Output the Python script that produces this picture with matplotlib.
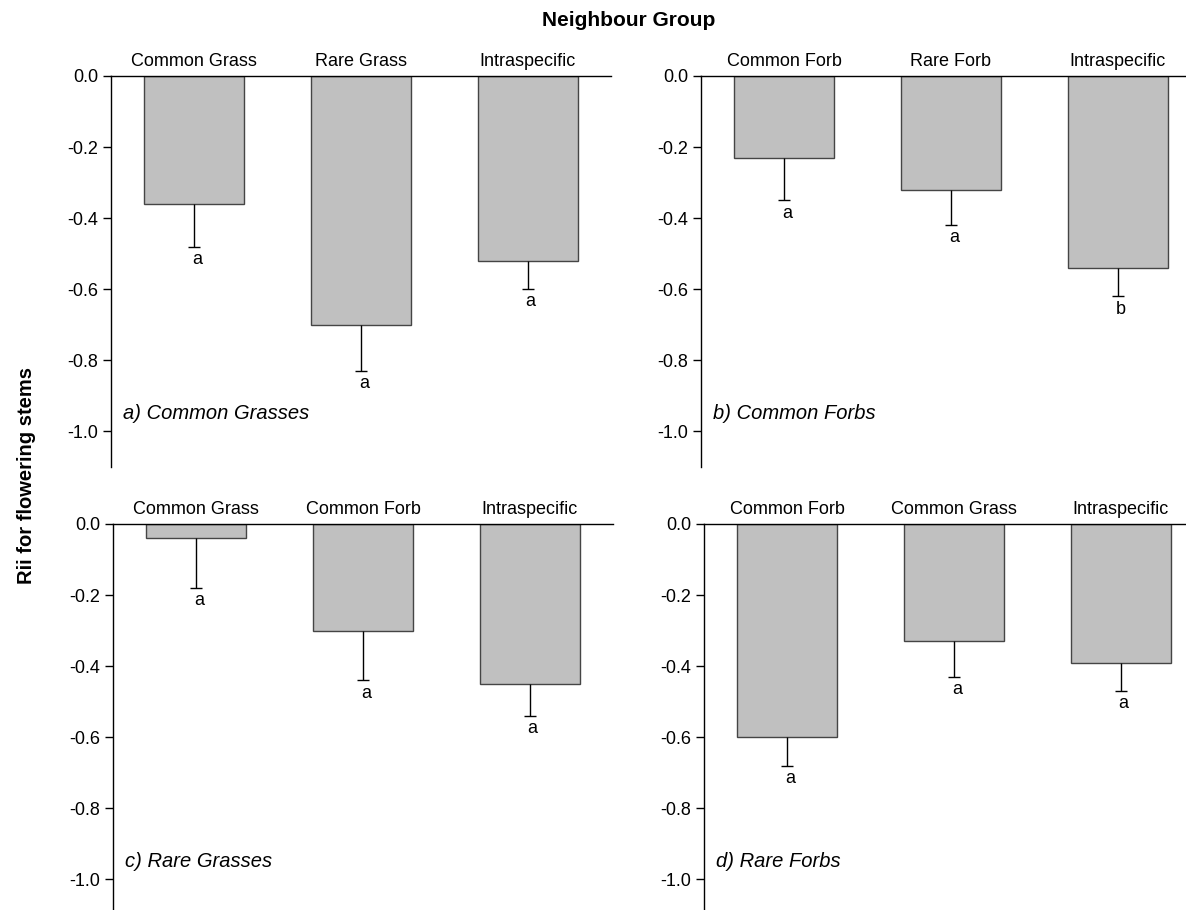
import matplotlib
matplotlib.use("Agg")
import matplotlib.pyplot as plt

output_file = "out.png"

# neighbour groups, mean Rii, lower error and significance letters per target group
labels_a = ["Common Grass", "Rare Grass", "Intraspecific"]
means_a = [-0.36, -0.70, -0.52]
errs_a = [0.12, 0.13, 0.08]
letters_a = ["a", "a", "a"]

labels_b = ["Common Forb", "Rare Forb", "Intraspecific"]
means_b = [-0.23, -0.32, -0.54]
errs_b = [0.12, 0.10, 0.08]
letters_b = ["a", "a", "b"]

labels_c = ["Common Grass", "Common Forb", "Intraspecific"]
means_c = [-0.04, -0.30, -0.45]
errs_c = [0.14, 0.14, 0.09]
letters_c = ["a", "a", "a"]

labels_d = ["Common Forb", "Common Grass", "Intraspecific"]
means_d = [-0.60, -0.33, -0.39]
errs_d = [0.08, 0.10, 0.08]
letters_d = ["a", "a", "a"]

titles = ["a) Common Grasses", "b) Common Forbs", "c) Rare Grasses", "d) Rare Forbs"]

plt.rcParams['font.family'] = ['Liberation Sans', 'DejaVu Sans']

W, H = 1186, 910
# axes boxes in pixels: left, right, top, bottom
boxes = [(111, 611, 76, 467), (701, 1201, 76, 467),
         (113, 613, 524, 915), (704, 1204, 524, 915)]


def draw(ax, labels, means, errs, letters, title):
    x = list(range(len(labels)))
    lows = [m - e for m, e in zip(means, errs)]
    ax.bar(x, means, width=0.6, color='#c0c0c0', edgecolor='#454545', linewidth=1.0, zorder=2)
    # only the lower half of the error bar, cap at the low end
    ax.errorbar(x, means, yerr=[errs, [0] * len(errs)], fmt='none', ecolor='black',
                elinewidth=1.0, capsize=0, zorder=3)
    ax.plot(x, lows, linestyle='none', marker='_', markersize=8.5, markeredgewidth=1.0,
            color='black', zorder=3)
    for xi, lo, l in zip(x, lows, letters):
        ax.annotate(l, (xi, lo), xytext=(2, -3), textcoords='offset points',
                    ha='center', va='top', fontsize=13)
    ax.set_xlim(-0.5, 2.5)
    ax.set_ylim(-1.1, 0)
    ax.set_yticks([0, -0.2, -0.4, -0.6, -0.8, -1.0])
    ax.set_yticklabels(["0.0", "-0.2", "-0.4", "-0.6", "-0.8", "-1.0"])
    ax.set_xticks(x)
    ax.set_xticklabels(labels)
    ax.xaxis.tick_top()
    ax.tick_params(axis='x', length=0, pad=4, labelsize=13)
    ax.tick_params(axis='y', direction='out', length=6, width=1, labelsize=13, pad=3)
    ax.spines['right'].set_visible(False)
    ax.spines['bottom'].set_visible(False)
    ax.spines['top'].set_linewidth(1.0)
    ax.spines['left'].set_linewidth(1.0)
    ax.text(-0.43, -0.95, title, fontsize=14.5, style='italic', va='center', ha='left')


fig = plt.figure(figsize=(W / 100, H / 100), dpi=100)
axes = []
for l, r, t, b in boxes:
    axes.append(fig.add_axes([l / W, 1 - b / H, (r - l) / W, (b - t) / H]))

draw(axes[0], labels_a, means_a, errs_a, letters_a, titles[0])
draw(axes[1], labels_b, means_b, errs_b, letters_b, titles[1])
draw(axes[2], labels_c, means_c, errs_c, letters_c, titles[2])
draw(axes[3], labels_d, means_d, errs_d, letters_d, titles[3])

fig.text(629 / W, 1 - 20 / H, "Neighbour Group", fontsize=15, fontweight='bold',
         ha='center', va='center')
fig.text(27 / W, 1 - 475 / H, "Rii for flowering stems", fontsize=14.5, fontweight='bold',
         rotation=90, ha='center', va='center')

fig.savefig(output_file, dpi=100)
